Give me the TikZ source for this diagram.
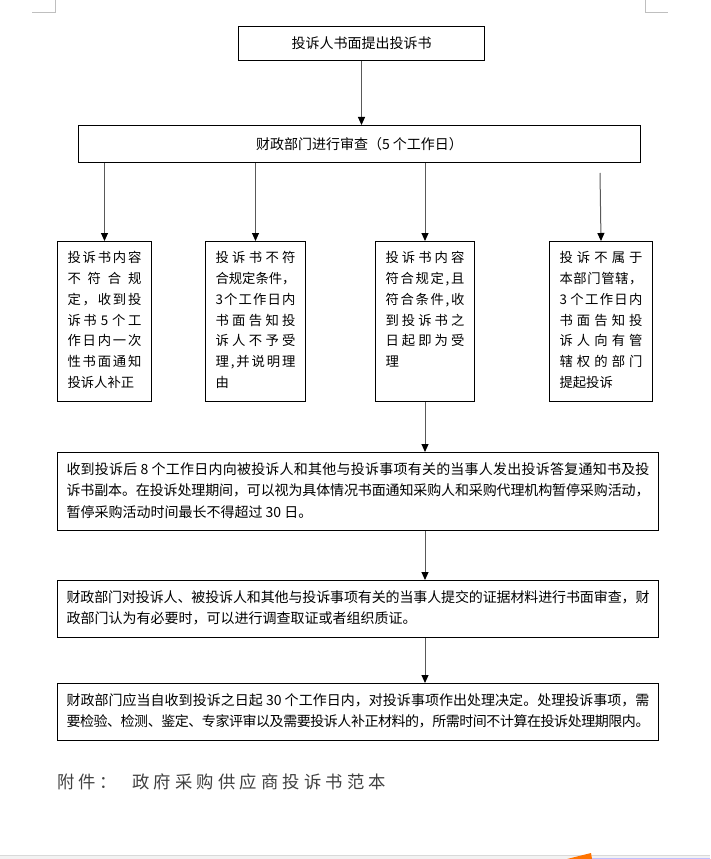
\documentclass[tikz,border=0pt]{standalone}
\usepackage{fontspec}
\newfontfamily\cjk{Noto Sans CJK SC}
\usetikzlibrary{arrows.meta}
\newXeTeXintercharclass\hanclass
\makeatletter
\count@="3000
\loop \XeTeXcharclass\count@=\hanclass \advance\count@ 1 \ifnum\count@<"3040 \repeat
\count@="4E00
\loop \XeTeXcharclass\count@=\hanclass \advance\count@ 1 \ifnum\count@<"A000 \repeat
\count@="FF00
\loop \XeTeXcharclass\count@=\hanclass \advance\count@ 1 \ifnum\count@<"FF60 \repeat
\makeatother
\XeTeXinterchartokenstate=1
\newcommand\cjkglue{\hskip 0pt plus 3pt minus 1pt\relax}
\XeTeXinterchartoks \hanclass \hanclass = {\cjkglue}
\XeTeXinterchartoks \hanclass 0 = {\cjkglue}
\XeTeXinterchartoks 0 \hanclass = {\cjkglue}
\newdimen\px \px=0.75pt
\newcommand\fline[1]{\makebox[\hsize][s]{#1}}
\begin{document}
\begin{tikzpicture}[x=0.75pt,y=-0.75pt,
  box/.style={draw,line width=0.75pt,inner sep=0pt,anchor=north west,font={\cjk\fontsize{10.5}{16.1}\selectfont}},
  tall/.style={box,inner xsep=10\px,inner ysep=10\px,font={\cjk\fontsize{10}{15.6}\selectfont}},
  wide/.style={box,inner xsep=9\px,inner ysep=10\px},
  arr/.style={black!65,line width=0.75pt,-{Triangle[width=5.25pt,length=6pt,color=black]}},
  note/.style={anchor=west,inner sep=0pt,text=black!75,font={\cjk\fontsize{13}{15}\selectfont}},
  cropline/.style={black!25,line width=0.75pt}]
\useasboundingbox (0,0) rectangle (710,859);
\draw[cropline] (32,13) -- (55,13) -- (55,0);
\draw[cropline] (645,0) -- (645,13) -- (668,13);

\node[box,minimum width=246\px,minimum height=34\px] (sub) at (238,26) {投诉人书面提出投诉书};
\node[box,minimum width=562\px,minimum height=37\px] (chk) at (78,125) {财政部门进行审查（5 个工作日）};

\node[tall] (n1) at (57,241) {\begin{minipage}[t][140\px][t]{74\px}
\fline{投诉书内容}\\ \fline{不符合规}\\ \fline{定，收到投}\\ \fline{诉书 5 个工}\\
\fline{作日内一次}\\ \fline{性书面通知}\\ 投诉人补正\end{minipage}};
\node[tall] (n2) at (205,241) {\begin{minipage}[t][140\px][t]{80\px}
\fline{投诉书不符}\\ \fline{合规定条件，}\\ \fline{3个工作日内}\\ \fline{书面告知投}\\
\fline{诉人不予受}\\ \fline{理,并说明理}\\ 由\end{minipage}};
\node[tall] (n3) at (375,241) {\begin{minipage}[t][140\px][t]{79\px}
\fline{投诉书内容}\\ \fline{符合规定,且}\\ \fline{符合条件,收}\\ \fline{到投诉书之}\\
\fline{日起即为受}\\ 理\end{minipage}};
\node[tall] (n4) at (549,241) {\begin{minipage}[t][140\px][t]{83\px}
\fline{投诉不属于}\\ \fline{本部门管辖，}\\ \fline{3 个工作日内}\\ \fline{书面告知投}\\
\fline{诉人向有管}\\ \fline{辖权的部门}\\ 提起投诉\end{minipage}};

\node[wide] (b5) at (57,452) {\begin{minipage}[t][58\px][t]{583\px}
\fline{收到投诉后 8 个工作日内向被投诉人和其他与投诉事项有关的当事人发出投诉答复通知书及投}\\
\fline{诉书副本。在投诉处理期间，可以视为具体情况书面通知采购人和采购代理机构暂停采购活动，}\\
暂停采购活动时间最长不得超过 30 日。\end{minipage}};
\node[wide] (b6) at (57,580) {\begin{minipage}[t][37\px][t]{583\px}
\fline{财政部门对投诉人、被投诉人和其他与投诉事项有关的当事人提交的证据材料进行书面审查，财}\\
政部门认为有必要时，可以进行调查取证或者组织质证。\end{minipage}};
\node[wide] (b7) at (57,683) {\begin{minipage}[t][37\px][t]{583\px}
\fline{财政部门应当自收到投诉之日起 30 个工作日内，对投诉事项作出处理决定。处理投诉事项，需}\\
\fline{要检验、检测、鉴定、专家评审以及需要投诉人补正材料的，所需时间不计算在投诉处理期限内。}\end{minipage}};

\coordinate (c4) at (600,173);
\draw[arr] (sub.south) -- (sub.south |- chk.north);
\foreach \n in {n1,n2,n3}
  \draw[arr] (\n.north |- chk.south) -- (\n.north);
\draw[arr] (c4) -- (n4.north);
\draw[arr] (n3.south) -- (n3.south |- b5.north);
\draw[arr] (b5.south -| n3.south) -- (b6.north -| n3.south);
\draw[arr] (b6.south -| n3.south) -- (b7.north -| n3.south);

\node[note] (fj) at (57,782) {\makebox[60\px][s]{附件：}};
\node[note] (fb) at (132,782) {\makebox[254\px][s]{政府采购供应商投诉书范本}};

\fill[black!5] (0,855) rectangle (710,859);
\draw[black!15,line width=0.75pt] (0,855) -- (710,855);
\fill[orange!90!red] (567,859) -- (591,853) -- (592,859) -- cycle;
\draw[blue!25,line width=0.75pt] (592,858.5) -- (710,858.5);
\end{tikzpicture}
\end{document}
